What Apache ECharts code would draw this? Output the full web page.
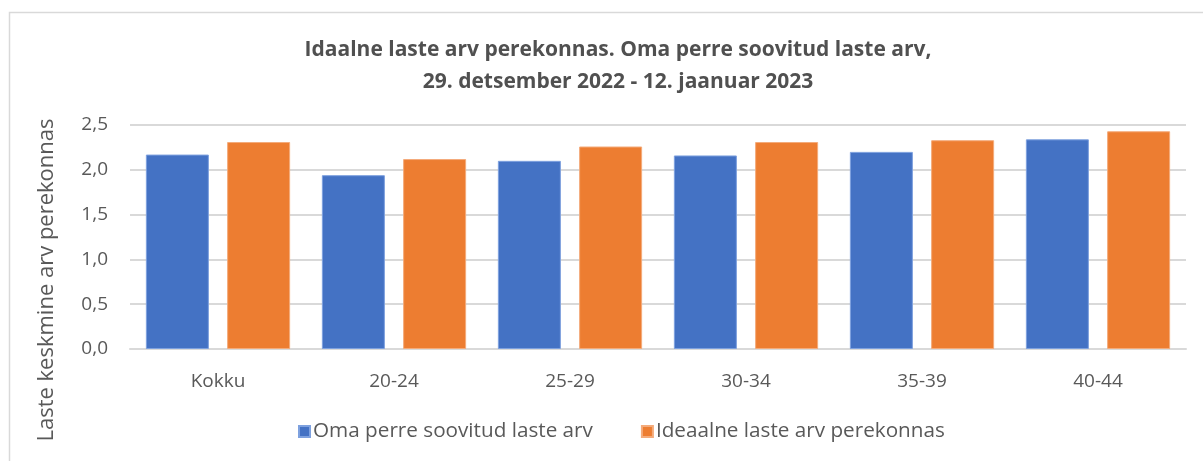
<!DOCTYPE html>
<html>
<head>
<meta charset="utf-8">
<script src="https://cdn.jsdelivr.net/npm/echarts@6/dist/echarts.min.js"></script>
<style>
  html, body { margin: 0; padding: 0; background: #fff; }
  #chart { width: 1203px; height: 461px; }
</style>
</head>
<body>
<div id="chart"></div>
<script>
// andmed
var categories = ['Kokku', '20-24', '25-29', '30-34', '35-39', '40-44']
var omaPerre = [2.17, 1.94, 2.10, 2.16, 2.20, 2.34]
var ideaalne = [2.31, 2.12, 2.26, 2.31, 2.33, 2.43]
var seriesNames = ['Oma perre soovitud laste arv', 'Ideaalne laste arv perekonnas']

var textColor = '#595959'
var font = 'Open Sans'

var chart = echarts.init(document.getElementById('chart'))
chart.setOption({
  animation: false,
  color: ['#4472C4', '#ED7D31'],
  graphic: [{
    type: 'rect',
    shape: { x: 9.5, y: 12.5, width: 1210, height: 470 },
    style: { fill: 'none', stroke: '#d9d9d9', lineWidth: 1.5 },
    silent: true
  }],
  title: {
    text: 'Idaalne laste arv perekonnas. Oma perre soovitud laste arv,\n29. detsember 2022 - 12. jaanuar 2023',
    left: 613,
    top: 29,
    textAlign: 'center',
    textStyle: {
      fontFamily: font,
      fontWeight: 'bold',
      fontSize: 21,
      lineHeight: 32,
      color: '#505050'
    }
  },
  legend: {
    data: seriesNames,
    bottom: 14,
    left: 293,
    icon: 'rect',
    itemWidth: 11,
    itemHeight: 11,
    itemGap: 48,
    textStyle: { fontFamily: font, fontSize: 20.7, color: textColor, padding: [0, 0, 0, -2] }
  },
  grid: { left: 130, right: 17, top: 125, bottom: 112 },
  xAxis: {
    type: 'category',
    data: categories,
    axisLine: { lineStyle: { color: '#d9d9d9', width: 2 } },
    axisTick: { show: false },
    axisLabel: { fontFamily: font, fontSize: 19, color: textColor, margin: 23 }
  },
  yAxis: {
    type: 'value',
    min: 0,
    max: 2.5,
    interval: 0.5,
    name: 'Laste keskmine arv perekonnas',
    nameLocation: 'middle',
    nameGap: 72,
    nameTextStyle: { fontFamily: font, fontSize: 22, color: textColor, padding: [0, 86, 0, 0] },
    axisLine: { show: false },
    axisTick: { show: false },
    splitLine: { lineStyle: { color: '#d9d9d9', width: 2 } },
    axisLabel: {
      fontFamily: font,
      fontSize: 19,
      color: textColor,
      margin: 22,
      formatter: function (v) { return v.toFixed(1).replace('.', ',') }
    }
  },
  series: [
    {
      name: seriesNames[0],
      type: 'bar',
      data: omaPerre,
      barWidth: 63,
      barGap: '29%',
      itemStyle: { borderColor: '#7ea1df', borderWidth: 1 }
    },
    {
      name: seriesNames[1],
      type: 'bar',
      data: ideaalne,
      barWidth: 63,
      itemStyle: { borderColor: '#f4ab7b', borderWidth: 1 }
    }
  ]
})
</script>
</body>
</html>
